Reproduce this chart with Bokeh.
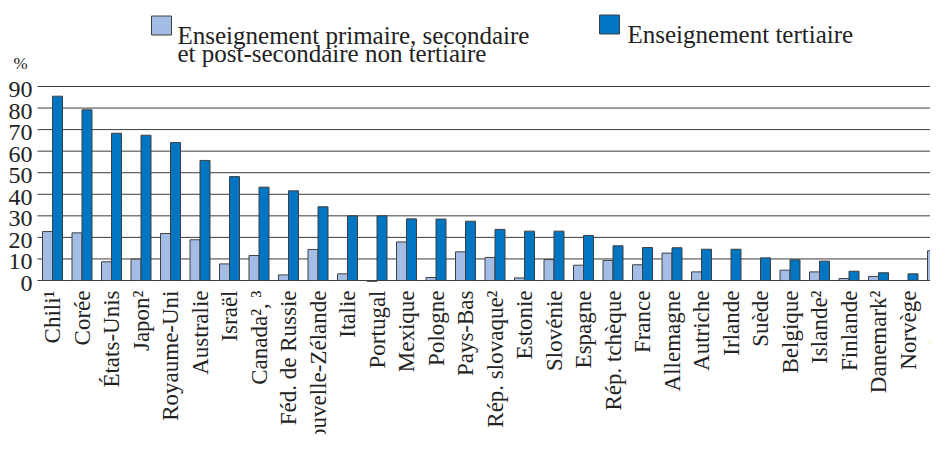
import math
from bokeh.plotting import figure
from bokeh.models import ColumnDataSource, Range1d
from bokeh.core.properties import value
from bokeh.transform import dodge
from bokeh.embed import file_html
from bokeh.resources import INLINE

nan = float("nan")

countries = ["Chili¹", "Corée", "États-Unis", "Japon²", "Royaume-Uni", "Australie",
             "Israël", "Canada², ³", "Féd. de Russie", "Nouvelle-Zélande", "Italie",
             "Portugal", "Mexique", "Pologne", "Pays-Bas", "Rép. slovaque²", "Estonie",
             "Slovénie", "Espagne", "Rép. tchèque", "France", "Allemagne", "Autriche",
             "Irlande", "Suède", "Belgique", "Islande²", "Finlande", "Danemark²",
             "Norvège", "Suisse"]

primaire = [22.7, 22.1, 8.7, 9.9, 21.8, 18.9, 7.7, 11.6, 2.6, 14.4, 3.1, -0.4,
            17.9, 1.4, 13.3, 10.7, 1.2, 9.7, 7.1, 9.3, 7.3, 12.7, 4.0, nan, nan,
            4.8, 4.0, 0.9, 1.9, nan, 13.8]

tertiaire = [85.5, 79.2, 68.3, 67.4, 64.0, 55.7, 48.2, 43.3, 41.6, 34.2, 30.0, 30.0,
             28.6, 28.5, 27.5, 23.7, 22.9, 22.9, 20.9, 16.1, 15.3, 15.2, 14.5, 14.5,
             10.5, 9.6, 9.0, 4.3, 3.6, 3.1, nan]

y_ticks = [0, 10, 20, 30, 40, 50, 60, 70, 80, 90]
y_tick_labels = [str(t) for t in y_ticks]
unit_label = "%"

legend_primaire = ["Enseignement primaire, secondaire",
                   "et post-secondaire non tertiaire"]
legend_tertiaire = ["Enseignement tertiaire"]

LIGHT = "#a3bde6"
DARK = "#0075c2"
EDGE = "#404040"
GRID = "#3c3c3c"
TEXT = "#222222"
FONT = value("Liberation Serif, serif")

# ---- layout (pixels) ----
W, H = 930, 434
PX_PER_CAT = 29.5      # horizontal pixels per category
PX_PER_UNIT = 2.1556   # vertical pixels per %
X0_PX = 52             # centre of first category, from left of canvas
Y0_PX = 280            # zero line, from top of canvas
FRAME_LEFT_PX = 37     # left end of the gridlines


def dx(px):
    return (px - X0_PX) / PX_PER_CAT


def dy(py):
    return (Y0_PX - py) / PX_PER_UNIT


x_start, x_end = dx(0), dx(W)
y_start, y_end = dy(H), dy(0)
grid_left = dx(FRAME_LEFT_PX)

p = figure(width=W, height=H, output_backend="svg", toolbar_location=None,
           x_range=Range1d(x_start, x_end), y_range=Range1d(y_start, y_end),
           x_axis_location=None, y_axis_location=None, min_border=0)
p.outline_line_color = None
p.background_fill_color = "white"
p.border_fill_color = "white"
p.xgrid.visible = False
p.ygrid.visible = False

# gridlines
p.segment(x0=[grid_left] * len(y_ticks), x1=[x_end + 1] * len(y_ticks),
          y0=y_ticks, y1=y_ticks, line_color=GRID, line_width=1)

src = ColumnDataSource(dict(idx=list(range(len(countries))), name=countries,
                            prim=primaire, tert=tertiaire,
                            base=[0] * len(countries)))

bw = 10.0 / PX_PER_CAT
p.vbar(x=dodge("idx", -bw / 2, range=p.x_range), top="prim", width=bw, source=src,
       fill_color=LIGHT, line_color=EDGE, line_width=1)
p.vbar(x=dodge("idx", bw / 2, range=p.x_range), top="tert", width=bw, source=src,
       fill_color=DARK, line_color=EDGE, line_width=1)

# y tick labels
p.text(x=[grid_left] * len(y_ticks), y=y_ticks, text=y_tick_labels, x_offset=-5,
       y_offset=3, text_align="right", text_baseline="middle",
       text_font=FONT, text_font_size="24px", text_color=TEXT)

# unit label
p.text(x=[dx(13)], y=[dy(63)], text=[unit_label], text_align="left",
       text_baseline="middle", text_font=FONT, text_font_size="17px",
       text_color=TEXT)

# category labels
p.text(x="idx", y="base", text="name", source=src, angle=math.pi / 2,
       y_offset=10, text_align="right", text_baseline="middle",
       text_font=FONT, text_font_size="23px", text_color=TEXT)

# legend (swatches + texts)
p.rect(x=[dx(161), dx(609)], y=[dy(25), dy(24)], width=20, height=19,
       width_units="screen", height_units="screen",
       fill_color=[LIGHT, DARK], line_color=EDGE, line_width=1)
p.text(x=[dx(177)] * 2, y=[dy(35), dy(53)], text=legend_primaire,
       text_align="left", text_baseline="alphabetic", text_font=FONT,
       text_font_size="25px", text_color=TEXT)
p.text(x=[dx(627)], y=[dy(34)], text=legend_tertiaire,
       text_align="left", text_baseline="alphabetic", text_font=FONT,
       text_font_size="25px", text_color=TEXT)

open("out.html", "w").write(file_html(p, INLINE))
